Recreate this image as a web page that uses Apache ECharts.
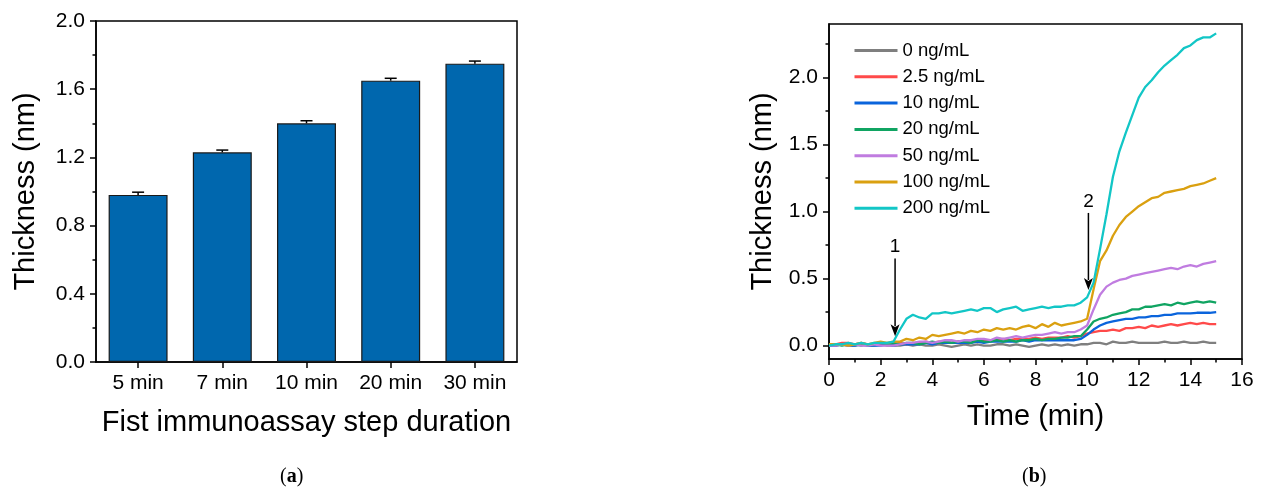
<!DOCTYPE html>
<html>
<head>
<meta charset="utf-8">
<script src="https://cdn.jsdelivr.net/npm/echarts@6/dist/echarts.min.js"></script>
<style>
html,body{margin:0;padding:0;background:#fff;}
#c{width:1269px;height:490px;}
</style>
</head>
<body>
<div id="c"></div>
<script>
// ---------- Panel (a) data ----------
const barCategories = ['5 min', '7 min', '10 min', '20 min', '30 min'];
const barValues = [0.98, 1.23, 1.40, 1.65, 1.75];
const barErrors = [0.016, 0.013, 0.015, 0.014, 0.015];
const barYTicks = [0, 0.4, 0.8, 1.2, 1.6, 2.0];

// ---------- Panel (b) data ----------
const times = [0,0.25,0.5,0.75,1,1.25,1.5,1.75,2,2.25,2.5,
  2.75,3,3.25,3.5,3.75,4,4.25,4.5,4.75,5,
  5.25,5.5,5.75,6,6.25,6.5,6.75,7,7.25,7.5,
  7.75,8,8.25,8.5,8.75,9,9.25,9.5,9.75,10,
  10.25,10.5,10.75,11,11.25,11.5,11.75,12,12.25,12.5,
  12.75,13,13.25,13.5,13.75,14,14.25,14.5,14.75,15];
const seriesNames = ['0 ng/mL','2.5 ng/mL','10 ng/mL','20 ng/mL','50 ng/mL','100 ng/mL','200 ng/mL'];
const c0 = [0.00,0.00,0.01,0.00,0.00,0.01,0.00,0.00,0.01,0.00,0.00,
  0.00,0.01,0.00,0.01,0.00,0.00,0.01,0.00,-0.01,0.00,
  0.01,0.00,0.01,0.00,0.00,0.01,0.01,0.00,0.01,0.00,
  -0.01,0.00,0.01,0.00,0.01,0.00,0.01,0.00,0.01,0.01,
  0.02,0.02,0.01,0.03,0.02,0.02,0.03,0.02,0.02,0.02,
  0.02,0.03,0.02,0.02,0.03,0.02,0.02,0.03,0.02,0.02];
const c25 = [0.01,0.01,0.02,0.02,0.01,0.02,0.01,0.01,0.01,0.01,0.01,
  0.02,0.01,0.02,0.02,0.03,0.02,0.03,0.03,0.02,0.03,
  0.03,0.04,0.03,0.04,0.04,0.04,0.05,0.04,0.05,0.05,
  0.05,0.06,0.05,0.06,0.06,0.06,0.07,0.06,0.07,0.09,
  0.10,0.11,0.11,0.12,0.11,0.13,0.13,0.14,0.13,0.15,
  0.14,0.15,0.16,0.15,0.16,0.17,0.16,0.17,0.16,0.16];
const c10 = [0.00,0.00,0.01,0.00,0.00,0.01,0.00,0.00,0.00,0.01,0.00,
  0.01,0.01,0.01,0.01,0.02,0.01,0.02,0.02,0.02,0.02,
  0.02,0.02,0.03,0.02,0.03,0.03,0.03,0.03,0.03,0.04,
  0.03,0.04,0.04,0.04,0.04,0.04,0.04,0.04,0.05,0.08,
  0.12,0.15,0.17,0.18,0.19,0.20,0.20,0.21,0.21,0.22,
  0.22,0.23,0.23,0.24,0.24,0.24,0.245,0.245,0.245,0.25];
const c20 = [0.00,0.01,0.00,0.01,0.01,0.00,0.01,0.01,0.02,0.01,0.02,
  0.01,0.02,0.02,0.01,0.02,0.03,0.02,0.03,0.02,0.03,
  0.03,0.02,0.04,0.03,0.03,0.04,0.03,0.04,0.03,0.04,
  0.04,0.05,0.04,0.05,0.05,0.06,0.06,0.07,0.07,0.12,
  0.18,0.20,0.21,0.23,0.24,0.25,0.27,0.27,0.29,0.29,
  0.30,0.31,0.30,0.32,0.31,0.32,0.33,0.32,0.33,0.32];
const c50 = [0.00,0.00,0.01,0.00,0.01,0.00,0.00,0.01,0.00,0.00,0.00,
  0.01,0.02,0.02,0.03,0.03,0.02,0.03,0.04,0.04,0.03,
  0.04,0.04,0.05,0.05,0.04,0.06,0.05,0.06,0.07,0.06,
  0.07,0.08,0.08,0.09,0.10,0.09,0.10,0.10,0.12,0.15,
  0.27,0.38,0.44,0.47,0.49,0.50,0.52,0.53,0.54,0.55,
  0.56,0.57,0.58,0.57,0.59,0.60,0.59,0.61,0.62,0.63];
const c100 = [0.01,0.01,0.01,0.00,0.01,0.02,0.01,0.02,0.03,0.02,0.03,
  0.03,0.05,0.04,0.06,0.05,0.08,0.07,0.08,0.09,0.10,
  0.09,0.11,0.10,0.12,0.11,0.13,0.12,0.13,0.12,0.14,
  0.15,0.13,0.16,0.14,0.17,0.15,0.16,0.17,0.18,0.20,
  0.42,0.63,0.71,0.82,0.90,0.96,1.00,1.04,1.07,1.10,
  1.11,1.14,1.15,1.16,1.17,1.19,1.20,1.21,1.23,1.25];
const c200 = [0.00,0.01,0.01,0.02,0.01,0.02,0.01,0.02,0.02,0.02,0.03,
  0.12,0.20,0.23,0.21,0.20,0.24,0.24,0.25,0.24,0.25,
  0.26,0.27,0.26,0.28,0.28,0.25,0.27,0.28,0.29,0.26,
  0.27,0.28,0.29,0.28,0.29,0.29,0.30,0.30,0.32,0.36,
  0.47,0.72,0.98,1.26,1.45,1.59,1.72,1.85,1.93,1.98,
  2.04,2.09,2.13,2.17,2.22,2.24,2.28,2.30,2.30,2.33];
const curveValues = [c0, c25, c10, c20, c50, c100, c200];
const curveColors = ['#7f7f7f','#ff4a4a','#0a64dc','#10a462','#c07ce0','#daa010','#12c6c6'];
const timeTicks = [0,2,4,6,8,10,12,14,16];
const thickTicks = [0, 0.5, 1.0, 1.5, 2.0];
const thickMinorTicks = [0.25, 0.75, 1.25, 1.75, 2.25];
// injection arrows
const arrowTimes = [2.56, 10.05];
const arrowStarts = [0.65, 0.99];
const arrowTips = [0.07, 0.415];
const arrowLabelValues = [0.74, 1.07];
const arrowLabels = ['1', '2'];

const FONT = 'Arial, "Liberation Sans", sans-serif';
const SERIF = '"Times New Roman", "Liberation Serif", serif';
const chart = echarts.init(document.getElementById('c'), null, {renderer: 'canvas'});

const axisLine = {show: true, onZero: false, lineStyle: {color: '#000', width: 1.5}};

const curveSeries = seriesNames.map((name, i) => ({
  name: name,
  type: 'line',
  xAxisIndex: 1,
  yAxisIndex: 1,
  symbol: 'none',
  data: times.map((t, k) => [t, curveValues[i][k]]),
  lineStyle: {color: curveColors[i], width: 2.3},
  itemStyle: {color: curveColors[i]},
  z: 2 + i
}));

curveSeries.push({
  name: 'arrows',
  type: 'custom',
  xAxisIndex: 1,
  yAxisIndex: 1,
  silent: true,
  data: arrowTimes.map((t, i) => [t, arrowStarts[i], arrowTips[i], arrowLabelValues[i], i]),
  renderItem: function (params, api) {
    const t = api.value(0);
    const s = api.coord([t, api.value(1)]);
    const tip = api.coord([t, api.value(2)]);
    const lab = api.coord([t, api.value(3)]);
    const idx = api.value(4);
    const headL = 12, headW = 4.5;
    return {
      type: 'group',
      children: [
        {type: 'line', shape: {x1: s[0], y1: s[1], x2: tip[0], y2: tip[1] - headL + 2}, style: {stroke: '#000', lineWidth: 1.5}},
        {type: 'polygon', shape: {points: [[tip[0], tip[1]], [tip[0] - headW, tip[1] - headL], [tip[0], tip[1] - headL + 3], [tip[0] + headW, tip[1] - headL]]}, style: {fill: '#000'}},
        {type: 'text', style: {text: arrowLabels[idx], x: lab[0], y: lab[1], align: 'center', verticalAlign: 'middle', font: '19px ' + FONT, fill: '#000'}}
      ]
    };
  },
  z: 20
});

const option = {
  animation: false,
  backgroundColor: '#fff',
  textStyle: {fontFamily: FONT},
  grid: [
    {left: 96, top: 21, width: 421, height: 341, show: true, borderColor: '#000', borderWidth: 1.5, backgroundColor: 'transparent'},
    {left: 829, top: 24, width: 413, height: 335, show: true, borderColor: '#000', borderWidth: 1.5, backgroundColor: 'transparent'}
  ],
  legend: {
    data: seriesNames,
    orient: 'vertical',
    left: 853,
    top: 41,
    itemWidth: 43,
    itemHeight: 16,
    itemGap: 7.3,
    itemStyle: {opacity: 0},
    lineStyle: {width: 3},
    textStyle: {fontFamily: FONT, fontSize: 18.5, color: '#000', lineHeight: 16, padding: [0, 0, 0, 0]},
    itemTextGap: 5,
    padding: 0
  },
  xAxis: [
    {
      gridIndex: 0,
      type: 'category',
      data: barCategories,
      axisLine: axisLine,
      axisTick: {show: true, alignWithLabel: true, inside: false, length: 6, lineStyle: {color: '#000', width: 1.5}},
      axisLabel: {fontFamily: FONT, fontSize: 21, color: '#000', margin: 11},
      name: 'Fist immunoassay step duration',
      nameLocation: 'middle',
      nameGap: 46,
      nameTextStyle: {fontFamily: FONT, fontSize: 29, color: '#000'},
      splitLine: {show: false}
    },
    {
      gridIndex: 1,
      type: 'value',
      position: 'bottom',
      min: 0, max: 16, interval: 2,
      axisLine: axisLine,
      axisTick: {show: true, length: 6, lineStyle: {color: '#000', width: 1.5}},
      minorTick: {show: true, splitNumber: 2, length: 3.5, lineStyle: {color: '#000', width: 1.5}},
      axisLabel: {fontFamily: FONT, fontSize: 21, color: '#000', margin: 11},
      name: 'Time (min)',
      nameLocation: 'middle',
      nameGap: 43,
      nameTextStyle: {fontFamily: FONT, fontSize: 29, color: '#000'},
      splitLine: {show: false}
    }
  ],
  yAxis: [
    {
      gridIndex: 0,
      type: 'value',
      position: 'left',
      min: 0, max: 2.0, interval: 0.4,
      axisLine: axisLine,
      axisTick: {show: true, length: 6, lineStyle: {color: '#000', width: 1.5}},
      minorTick: {show: true, splitNumber: 2, length: 3.5, lineStyle: {color: '#000', width: 1.5}},
      axisLabel: {fontFamily: FONT, fontSize: 21, color: '#000', margin: 11, formatter: v => v.toFixed(1)},
      name: 'Thickness (nm)',
      nameLocation: 'middle',
      nameRotate: 90,
      nameGap: 56,
      nameTextStyle: {fontFamily: FONT, fontSize: 29, color: '#000'},
      splitLine: {show: false}
    },
    {
      gridIndex: 1,
      type: 'value',
      position: 'left',
      min: -0.1, max: 2.4,
      axisLine: axisLine,
      axisTick: {show: true, length: 6, customValues: thickTicks, lineStyle: {color: '#000', width: 1.5}},
      axisLabel: {fontFamily: FONT, fontSize: 21, color: '#000', margin: 11, customValues: thickTicks, formatter: v => v.toFixed(1)},
      name: 'Thickness (nm)',
      nameLocation: 'middle',
      nameRotate: 90,
      nameGap: 52,
      nameTextStyle: {fontFamily: FONT, fontSize: 29, color: '#000'},
      splitLine: {show: false}
    },
    {
      gridIndex: 1,
      type: 'value',
      position: 'left',
      offset: 0,
      min: -0.1, max: 2.4,
      axisLine: {show: false, onZero: false},
      axisTick: {show: true, length: 3.5, customValues: thickMinorTicks, lineStyle: {color: '#000', width: 1.5}},
      axisLabel: {show: false},
      splitLine: {show: false}
    }
  ],
  series: [
    {
      name: 'bars',
      type: 'bar',
      xAxisIndex: 0,
      yAxisIndex: 0,
      data: barValues,
      barWidth: '70%',
      itemStyle: {color: '#0067ae', borderColor: '#1a1a1a', borderWidth: 1.2},
      z: 2
    },
    {
      name: 'errors',
      type: 'custom',
      xAxisIndex: 0,
      yAxisIndex: 0,
      data: barValues.map((v, i) => [i, v, barErrors[i]]),
      renderItem: function (params, api) {
        const x = api.value(0);
        const v = api.value(1);
        const e = api.value(2);
        const p0 = api.coord([x, v]);
        const p1 = api.coord([x, v + e]);
        const hw = 6;
        return {
          type: 'group',
          children: [
            {type: 'line', shape: {x1: p0[0], y1: p0[1], x2: p1[0], y2: p1[1]}, style: {stroke: '#000', lineWidth: 1.5}},
            {type: 'line', shape: {x1: p1[0] - hw, y1: p1[1], x2: p1[0] + hw, y2: p1[1]}, style: {stroke: '#000', lineWidth: 1.5}}
          ]
        };
      },
      z: 3
    }
  ].concat(curveSeries),
  graphic: [
    {
      type: 'text', left: 280, top: 467,
      style: {
        text: '({b|a})', font: '20px ' + SERIF, fill: '#000',
        rich: {b: {fontWeight: 'bold', fontFamily: SERIF, fontSize: 20}}
      }
    },
    {
      type: 'text', left: 1022, top: 467,
      style: {
        text: '({b|b})', font: '20px ' + SERIF, fill: '#000',
        rich: {b: {fontWeight: 'bold', fontFamily: SERIF, fontSize: 20}}
      }
    }
  ]
};
chart.setOption(option);
</script>
</body>
</html>
